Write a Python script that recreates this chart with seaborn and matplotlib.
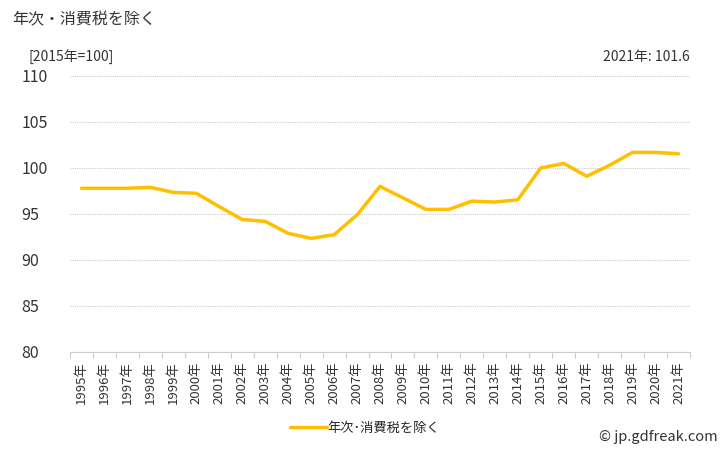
import matplotlib
matplotlib.use("Agg")
import matplotlib.pyplot as plt
import seaborn as sns
import pandas as pd
import numpy as np
from matplotlib.ticker import FixedLocator

years = [f"{y}年" for y in range(1995, 2022)]
values = [97.8, 97.8, 97.8, 97.9, 97.35, 97.25, 95.8, 94.4, 94.2, 92.9,
          92.35, 92.75, 94.9, 98.0, 96.75, 95.5, 95.5, 96.4, 96.3, 96.55,
          100.0, 100.5, 99.1, 100.3, 101.7, 101.7, 101.55]
series_name = "年次･消費税を除く"
yticks = [80, 85, 90, 95, 100, 105, 110]

sns.set_theme(style="white")
plt.rcParams['font.family'] = ['Noto Sans CJK JP', 'DejaVu Sans']

df = pd.DataFrame({"year": years, "value": values, "series": series_name})

fig = plt.figure(figsize=(7.28, 4.5), dpi=100)
ax = fig.add_axes([70/728, 98/450, 620/728, 276/450])

sns.lineplot(data=df, x="year", y="value", hue="series", palette=["#FFBF00"],
             linewidth=2.5, ax=ax, sort=False, legend=True)

ax.set_xlim(-0.5, len(years) - 0.5)
ax.set_ylim(80, 110)
ax.set_yticks(yticks)
ax.set_yticklabels([str(v) for v in yticks], fontsize=11.5, color="#333333")
ax.set_xticks(range(len(years)))
ax.set_xticklabels(years, rotation=90, fontsize=9.5, color="#333333")
ax.xaxis.set_minor_locator(FixedLocator(np.arange(-0.5, len(years), 1.0)))
ax.tick_params(axis="x", which="major", length=0, pad=7)
ax.tick_params(axis="x", which="minor", length=4, color="#cccccc", width=0.8, bottom=True)
ax.tick_params(axis="y", length=0, pad=35)
for lbl in ax.get_yticklabels():
    lbl.set_horizontalalignment("left")
ax.set_xlabel("")
ax.set_ylabel("")

ax.grid(axis="y", color="#cccccc", linestyle=(0, (1, 1)), linewidth=0.8)
ax.set_axisbelow(True)
for side in ["top", "right", "left"]:
    ax.spines[side].set_visible(False)
ax.spines["bottom"].set_color("#cccccc")
ax.spines["bottom"].set_linestyle((0, (1, 1)))
ax.spines["bottom"].set_linewidth(0.8)

leg = ax.legend(loc="center", bbox_to_anchor=(365/728, 1 - 428/450),
                bbox_transform=fig.transFigure, frameon=False, fontsize=9.5,
                handlelength=2.8, handletextpad=0.1)

fig.text(12/728, 1 - 20/450, "年次・消費税を除く", fontsize=11.5, color="#333333",
         va="center", ha="left")
fig.text(28/728, 1 - 57/450, "[2015年=100]", fontsize=10, color="#333333",
         va="center", ha="left")
fig.text(690/728, 1 - 57/450, "2021年: 101.6", fontsize=10, color="#333333",
         va="center", ha="right")
fig.text(718/728, 1 - 437/450, "© jp.gdfreak.com", fontsize=10.5, color="#333333",
         va="center", ha="right")

fig.savefig("out.png", dpi=100)
